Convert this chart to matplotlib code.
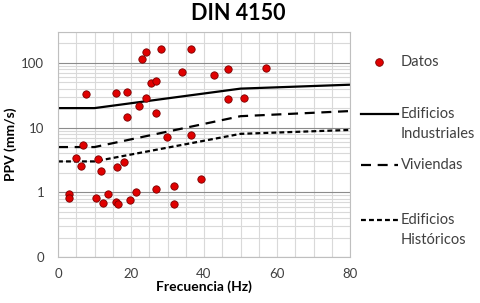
import numpy as np
import matplotlib.pyplot as plt
from matplotlib.lines import Line2D
from matplotlib.ticker import FixedLocator, LogLocator, NullFormatter

plt.rcParams['font.family'] = ['Lato', 'DejaVu Sans']

# measured points (Hz, mm/s)
freq = [7.7, 15.8, 18.8, 23.1, 24.1, 28.3, 36.4, 34.1, 42.7, 46.6,
        25.5, 26.8, 24.1, 22.2, 18.8, 26.8, 29.9, 36.4, 46.6, 6.8,
        56.9, 51.0, 4.8, 6.3, 10.9, 11.7, 16.3, 18.1, 3.1, 2.9,
        10.3, 12.3, 13.6, 15.8, 16.4, 19.6, 21.3, 26.8, 31.8, 31.8, 39.2]
ppv = [32.5, 34, 35.8, 115, 148, 166, 166, 73, 64, 80,
       48.7, 52, 28.2, 21.6, 14.8, 16.6, 7.2, 7.6, 27.6, 5.3,
       83, 29, 3.4, 2.57, 3.25, 2.16, 2.45, 2.93, 0.93, 0.83,
       0.81, 0.69, 0.93, 0.71, 0.67, 0.77, 1.02, 1.12, 1.27, 0.67, 1.62]

# DIN 4150 limit lines
lim_f = [0, 10, 50, 80]
industriales = [20, 20, 40, 46]
viviendas = [5, 5, 15, 18]
historicos = [3, 3, 8, 9.2]

W, H = 481, 303
fig = plt.figure(figsize=(W / 100, H / 100), dpi=100)
ax = fig.add_axes([58 / W, 1 - 257 / H, 292 / W, 225 / H])

ax.set_yscale('log')
ax.set_xlim(0, 80)
ax.set_ylim(0.1, 300)

ax.xaxis.set_major_locator(FixedLocator([0, 20, 40, 60, 80]))
ax.xaxis.set_minor_locator(FixedLocator(np.arange(0, 81, 5)))
ax.yaxis.set_major_locator(FixedLocator([0.1, 1, 10, 100]))
ax.yaxis.set_minor_locator(LogLocator(base=10, subs=np.arange(2, 10)))
ax.yaxis.set_minor_formatter(NullFormatter())
ax.set_yticklabels(['0', '1', '10', '100'])

ax.grid(True, which='minor', color='#d9d9d9', lw=0.8)
ax.grid(True, which='major', axis='x', color='#d9d9d9', lw=0.8)
ax.grid(True, which='major', axis='y', color='#8c8c8c', lw=0.8)
ax.tick_params(which='both', length=0, labelsize=9.5, colors='#404040')
ax.tick_params(axis='y', pad=10)
ax.tick_params(axis='x', pad=8)
for s in ax.spines.values():
    s.set_color('#bfbfbf')
    s.set_linewidth(0.8)

ax.scatter(freq, ppv, s=28, color='#e00000', edgecolors='#7a0000',
           linewidths=0.6, zorder=3)
ax.plot(lim_f, industriales, color='black', lw=1.6)
ax.plot(lim_f, viviendas, color='black', lw=1.6, dashes=(4.5, 3))
ax.plot(lim_f, historicos, color='black', lw=1.6, dashes=(2.2, 1.4))

fig.suptitle('DIN 4150', x=0.495, y=1 - 3 / H, va='top',
             fontsize=15.5, fontweight='bold')
ax.set_xlabel('Frecuencia (Hz)', fontsize=10, fontweight='bold', labelpad=0)
ax.set_ylabel('PPV (mm/s)', fontsize=10, fontweight='bold', labelpad=3)

# legend drawn at the right, handle aligned to the first text line
def fy(py):
    return 1 - py / H

fig.add_artist(Line2D([379 / W], [fy(62)], marker='o', ms=5.5, color='#e00000',
                      markeredgecolor='#7a0000', mew=0.6, ls='none'))
fig.text(401 / W, fy(62), 'Datos', fontsize=10.5, color='#404040',
         va='center', ha='left')
styles = [(None, 114, 'Edificios\nIndustriales'),
          ((4.5, 3), 165, 'Viviendas'),
          ((2.2, 1.4), 220, 'Edificios\nHistóricos')]
for dash, py, lab in styles:
    ln = Line2D([361 / W, 398 / W], [fy(py), fy(py)], color='black', lw=1.6)
    if dash:
        ln.set_dashes(dash)
    fig.add_artist(ln)
    fig.text(401 / W, fy(py) + 7 / H, lab, fontsize=10.5, color='#404040',
             va='top', ha='left', linespacing=1.55)

fig.savefig('out.png', dpi=100)
